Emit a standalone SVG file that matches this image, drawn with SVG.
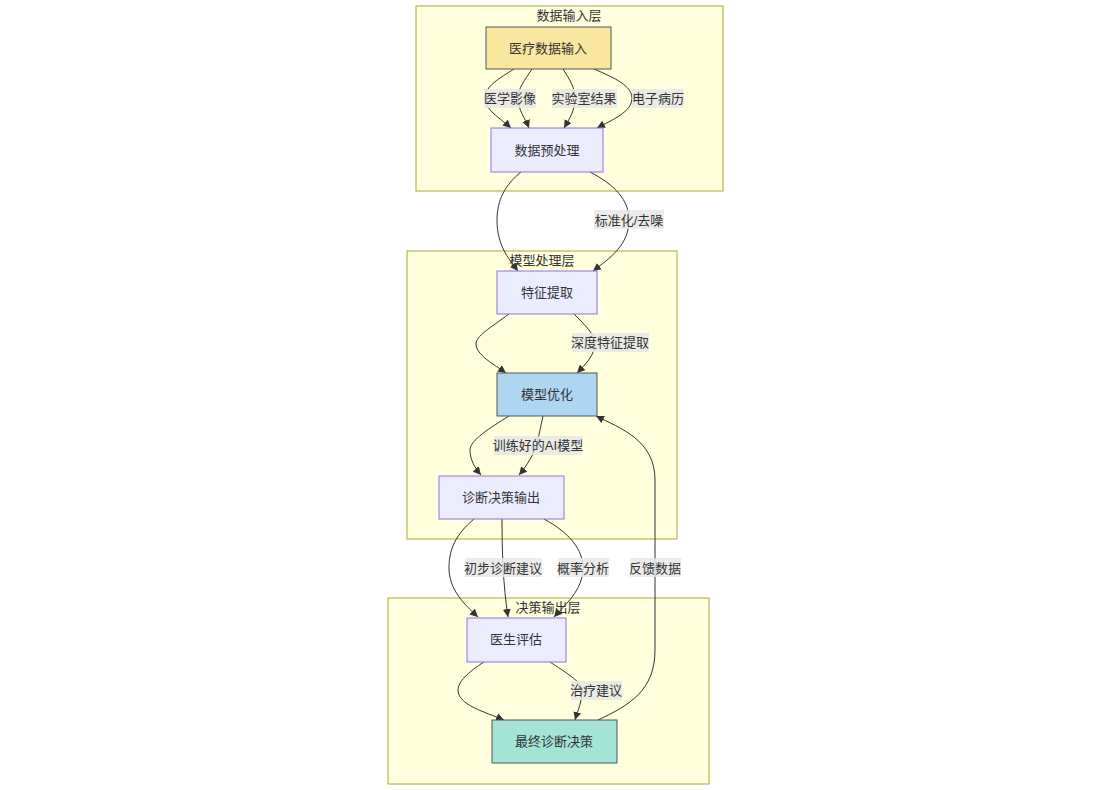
<svg xmlns="http://www.w3.org/2000/svg" width="1111" height="790" viewBox="0 0 1111 790">
  <style>
    text { font-family: "Liberation Sans", "Noto Sans CJK SC", sans-serif; font-size: 13px; fill: #333; text-anchor: middle; dominant-baseline: central; }
    .cluster rect { fill: #ffffde; stroke: #aaaa33; stroke-width: 1; }
    .node rect { stroke-width: 1; }
    .std rect { fill: #ececff; stroke: #9370db; }
    .edge { fill: none; stroke: #333; stroke-width: 1; marker-end: url(#arrow); }
    .lbl rect { fill: #e8e8e8; opacity: 0.85; }
  </style>
  <defs>
    <marker id="arrow" viewBox="0 0 10 10" refX="10" refY="5" markerWidth="8" markerHeight="8" markerUnits="userSpaceOnUse" orient="auto">
      <path d="M0,0 L10,5 L0,10 z" fill="#333"/>
    </marker>
  </defs>
  <rect width="1111" height="790" fill="#fff"/>

  <!-- layer boxes -->
  <g id="layer-input" class="cluster">
    <rect x="416" y="6" width="307" height="185"/>
    <text x="569" y="15">数据输入层</text>
  </g>
  <g id="layer-model" class="cluster">
    <rect x="407" y="251" width="270" height="288"/>
    <text x="542" y="260">模型处理层</text>
  </g>
  <g id="layer-output" class="cluster">
    <rect x="388" y="598" width="321" height="186"/>
    <text x="548" y="607">决策输出层</text>
  </g>

  <!-- connectors -->
  <g id="edges">
    <path class="edge" d="M514,69 C500,78 485,86 485,98 C485,110 500,118 511,128"/>
    <path class="edge" d="M532,69 C525,80 518,88 518,98 C518,110 525,118 529,128"/>
    <path class="edge" d="M563,69 C570,80 575,88 575,98 C575,110 570,118 564,128"/>
    <path class="edge" d="M594,69 C615,78 632,86 632,98 C632,112 612,120 597,128"/>

    <path class="edge" d="M521,172 C505,185 497,200 497,220 C497,245 508,258 518,271"/>
    <path class="edge" d="M590,172 C615,185 629,200 629,220 C629,245 610,258 593,271"/>

    <path class="edge" d="M509,314 C490,328 476,336 476,344 C476,355 495,365 506,373"/>
    <path class="edge" d="M574,314 C585,325 595,335 595,343 C595,355 585,365 577,373"/>

    <path class="edge" d="M509,416 C490,428 470,440 470,450 C470,460 475,468 481,475"/>
    <path class="edge" d="M543,416 C540,430 538,440 535,450 C530,460 525,468 519,475"/>

    <path class="edge" d="M474,519 C455,535 449,550 449,568 C449,590 465,605 478,617"/>
    <path class="edge" d="M502,519 C502,550 503,585 508,617"/>
    <path class="edge" d="M544,519 C570,533 583,550 583,568 C583,590 565,605 554,617"/>

    <path class="edge" d="M484,662 C468,672 458,682 458,690 C458,705 485,712 504,720"/>
    <path class="edge" d="M550,662 C565,672 582,682 582,690 C582,702 578,710 575,720"/>

    <path class="edge" d="M598,720 C630,705 655,690 655,650 L655,480 C655,440 620,428 596,416"/>
  </g>

  <!-- connector labels -->
  <g id="edge-labels" class="lbl">
    <rect x="484" y="89" width="52" height="19"/><text x="510" y="98">医学影像</text>
    <rect x="552" y="89" width="65" height="19"/><text x="584" y="98">实验室结果</text>
    <rect x="632" y="89" width="52" height="19"/><text x="658" y="98">电子病历</text>
    <rect x="594" y="210" width="70" height="19"/><text x="629" y="220">标准化/去噪</text>
    <rect x="572" y="333" width="77" height="19"/><text x="610" y="342">深度特征提取</text>
    <rect x="494" y="436" width="88" height="19"/><text x="538" y="445">训练好的AI模型</text>
    <rect x="465" y="558" width="77" height="19"/><text x="503" y="568">初步诊断建议</text>
    <rect x="558" y="558" width="51" height="19"/><text x="583" y="568">概率分析</text>
    <rect x="630" y="558" width="51" height="19"/><text x="655" y="568">反馈数据</text>
    <rect x="571" y="681" width="51" height="19"/><text x="596" y="690">治疗建议</text>
  </g>

  <!-- nodes -->
  <g id="medical-input" class="node">
    <rect x="486" y="27" width="125" height="42" fill="#f9e79f" stroke="#555"/>
    <text x="548" y="48">医疗数据输入</text>
  </g>
  <g id="preprocess" class="node std">
    <rect x="491" y="128" width="112" height="44"/>
    <text x="547" y="150">数据预处理</text>
  </g>
  <g id="feature-extract" class="node std">
    <rect x="497" y="271" width="100" height="43"/>
    <text x="547" y="292">特征提取</text>
  </g>
  <g id="model-opt" class="node">
    <rect x="497" y="373" width="100" height="43" fill="#aed6f1" stroke="#555"/>
    <text x="547" y="394">模型优化</text>
  </g>
  <g id="diag-output" class="node std">
    <rect x="439" y="476" width="125" height="43"/>
    <text x="501" y="497">诊断决策输出</text>
  </g>
  <g id="doctor-eval" class="node std">
    <rect x="467" y="618" width="99" height="44"/>
    <text x="516" y="639">医生评估</text>
  </g>
  <g id="final-decision" class="node">
    <rect x="492" y="720" width="125" height="43" fill="#a3e4d7" stroke="#555"/>
    <text x="554" y="741">最终诊断决策</text>
  </g>
</svg>
